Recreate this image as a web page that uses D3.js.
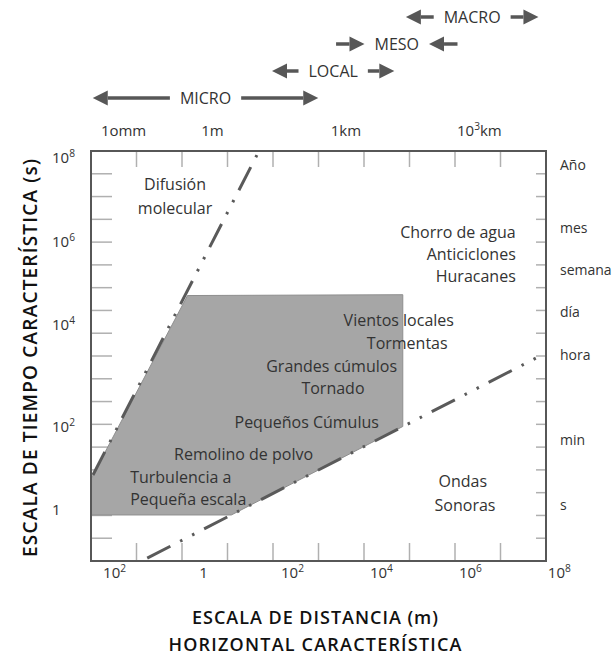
<!DOCTYPE html>
<html>
<head>
<meta charset="utf-8">
<script src="https://cdn.jsdelivr.net/npm/d3@7"></script>
<style>
  body { margin: 0; background: #fff; }
  text { font-family: "Open Sans", "Noto Sans", sans-serif; fill: #333; }
</style>
</head>
<body>
<svg id="chart" width="613" height="657"></svg>
<script>
const svg = d3.select("#chart");

// --- data (all positions in powers of ten: 10^e) ---
// bottom axis labels: distance in m (the first one is printed "10²" in the original)
const xLabelExp = [-2, 0, 2, 4, 6, 8];
const xLabelBase = ["10", "1", "10", "10", "10", "10"];
const xLabelSup = ["2", "", "2", "4", "6", "8"];

// left axis labels: time in s
const yLabelExp = [8, 6, 4, 2, 0];
const yLabelBase = ["10", "10", "10", "10", "1"];
const yLabelSup = ["8", "6", "4", "2", ""];

// right side time names
const timeNames = ["Año", "mes", "semana", "día", "hora", "min", "s"];
const timeExp = [7.83, 6.33, 5.33, 4.31, 3.41, 1.69, 0.12];

// top distance names
const distNames = ["1omm", "1m", "1km", "10³km"];
const distExp = [-2, 0, 3, 6];

// meteorological scales (horizontal extent, arrow direction)
const scaleNames = ["MICRO", "LOCAL", "MESO", "MACRO"];
const scaleFrom = [-2.49, 1.54, 2.98, 4.55];
const scaleTo = [2.58, 4.29, 5.71, 7.53];
const scaleDir = ["out", "out", "in", "out"];

// shaded region (x, y exponents)
const regionX = [-2.53, -0.36, 4.48, 4.48, 0.625, -2.53];
const regionY = [0.75, 4.71, 4.73, 2.01, -0.12, -0.12];

// dash-dot limit lines [start, end]
const limitX = [[1.20, -2.53], [7.47, -1.39]];
const limitY = [[8.07, 0.75], [3.35, -1.229]];

// phenomena
const phenNames = ["Difusión", "molecular", "Chorro de agua", "Anticiclones", "Huracanes",
  "Vientos locales", "Tormentas", "Grandes cúmulos", "Tornado", "Pequeños Cúmulus",
  "Remolino de polvo", "Turbulencia a", "Pequeña escala", "Ondas", "Sonoras"];
const phenX = [-0.64, -0.64, 7.02, 7.02, 7.02, 4.39, 4.58, 2.88, 2.91, 2.32, 0.9, -1.65, -1.65, 5.83, 5.88];
const phenY = [7.36, 6.80, 6.23, 5.69, 5.16, 4.12, 3.63, 3.18, 2.76, 2.10, 1.33, 0.79, 0.26, 0.68, 0.12];
const phenAnchor = ["middle", "middle", "end", "end", "end", "middle", "middle", "middle", "middle",
  "middle", "middle", "start", "start", "middle", "middle"];

// --- scales ---
const box = { left: 91, right: 546, top: 151, bottom: 561 };
const x = d3.scaleLinear().domain([-2.53, 7.7]).range([box.left, box.right]);
// the original axis is not evenly spaced, so a piecewise scale is used
const y = d3.scaleLinear()
  .domain([-1.229, 0, 2, 4, 6, 8, 8.167])
  .range([box.bottom, 510, 427, 325, 242, 158, box.top]);

const darkGray = "#575757";
const tickGray = "#b0b0b0";

function powText(sel, base, sup, after) {
  sel.append("tspan").text(base);
  if (sup) sel.append("tspan").attr("dy", -6).attr("font-size", "0.68em").text(sup);
  if (after) sel.append("tspan").attr("dy", 6).text(after);
}

// --- frame ticks ---
const tickG = svg.append("g").attr("stroke", tickGray).attr("stroke-width", 1.5);
const xSteps = d3.range(1, 10).map(i => x.domain()[0] + i * (x.domain()[1] - x.domain()[0]) / 10);
xSteps.forEach(v => {
  tickG.append("line").attr("x1", x(v)).attr("x2", x(v)).attr("y1", box.top).attr("y2", box.top + 16);
  tickG.append("line").attr("x1", x(v)).attr("x2", x(v)).attr("y1", box.bottom).attr("y2", box.bottom - 18);
});
const yGrid = d3.scaleLinear().domain([0, 18]).range([box.bottom, box.top]);
d3.range(1, 18).forEach(i => {
  tickG.append("line").attr("x1", box.left).attr("x2", box.left + 21).attr("y1", yGrid(i)).attr("y2", yGrid(i));
  tickG.append("line").attr("x1", box.right - 10).attr("x2", box.right).attr("y1", yGrid(i)).attr("y2", yGrid(i));
});

// --- shaded region ---
svg.append("path")
  .datum(d3.zip(regionX, regionY))
  .attr("d", d3.line().x(d => x(d[0])).y(d => y(d[1])).curve(d3.curveLinearClosed))
  .attr("fill", "#a6a6a6")
  .attr("stroke", "#8e8e8e")
  .attr("stroke-width", 1);

// --- dash-dot lines ---
const dashOffsets = [50.5, 37];
limitX.forEach((lx, i) => {
  svg.append("line")
    .attr("x1", x(lx[0])).attr("y1", y(limitY[i][0]))
    .attr("x2", x(lx[1])).attr("y2", y(limitY[i][1]))
    .attr("stroke", "#5a5a5a")
    .attr("stroke-width", 3)
    .attr("stroke-dasharray", "26,11,2.5,11,2.5,11")
    .attr("stroke-dashoffset", dashOffsets[i]);
});

// --- frame ---
svg.append("rect")
  .attr("x", box.left).attr("y", box.top)
  .attr("width", box.right - box.left).attr("height", box.bottom - box.top)
  .attr("fill", "none").attr("stroke", darkGray).attr("stroke-width", 2);

// --- phenomena text ---
phenNames.forEach((name, i) => {
  svg.append("text")
    .attr("x", x(phenX[i])).attr("y", y(phenY[i]))
    .attr("dy", "0.35em")
    .attr("text-anchor", phenAnchor[i])
    .style("font-size", "16px")
    .text(name);
});

// --- bottom axis labels ---
xLabelExp.forEach((e, i) => {
  svg.append("text")
    .attr("x", x(e)).attr("y", 578)
    .attr("text-anchor", "middle")
    .style("font-size", "15px")
    .call(powText, xLabelBase[i], xLabelSup[i]);
});

// --- left axis labels ---
yLabelExp.forEach((e, i) => {
  svg.append("text")
    .attr("x", 52).attr("y", y(e)).attr("dy", "0.35em")
    .style("font-size", "15px")
    .call(powText, yLabelBase[i], yLabelSup[i]);
});

// --- right time names ---
timeNames.forEach((name, i) => {
  svg.append("text")
    .attr("x", 560).attr("y", y(timeExp[i])).attr("dy", "0.35em")
    .style("font-size", "14px")
    .text(name);
});

// --- top distance names ---
distNames.forEach((name, i) => {
  const t = svg.append("text")
    .attr("x", x(distExp[i]) + 9).attr("y", 131).attr("dy", "0.35em")
    .attr("text-anchor", "middle")
    .style("font-size", "15px");
  if (name.includes("³")) t.call(powText, "10", "3", "km");
  else t.text(name);
});

// --- scale arrows ---
function arrow(g, tail, tip, yy) {
  const dir = Math.sign(tip - tail), headLen = 15, headHalf = 7.5;
  g.append("line")
    .attr("x1", tail).attr("x2", tip - dir * headLen)
    .attr("y1", yy).attr("y2", yy)
    .attr("stroke", darkGray).attr("stroke-width", 3.5);
  g.append("path")
    .attr("d", `M${tip},${yy}L${tip - dir * headLen},${yy - headHalf}L${tip - dir * headLen},${yy + headHalf}Z`)
    .attr("fill", darkGray);
}

scaleNames.forEach((name, i) => {
  const yy = 98 - i * 27;
  const a = x(scaleFrom[i]), b = x(scaleTo[i]), c = (a + b) / 2;
  const g = svg.append("g");
  const t = g.append("text")
    .attr("x", c).attr("y", yy).attr("dy", "0.35em")
    .attr("text-anchor", "middle")
    .style("font-size", "16px")
    .text(name);
  const half = t.node().getComputedTextLength() / 2 + 10;
  if (scaleDir[i] === "out") {
    arrow(g, c - half, a, yy);
    arrow(g, c + half, b, yy);
  } else {
    arrow(g, a, c - half, yy);
    arrow(g, b, c + half, yy);
  }
});

// --- axis titles ---
svg.append("text")
  .attr("transform", "translate(30,358) rotate(-90)")
  .attr("dy", "0.35em")
  .attr("text-anchor", "middle")
  .attr("textLength", 398)
  .attr("lengthAdjust", "spacing")
  .style("font-size", "19px").style("font-weight", 600).style("fill", "#111")
  .text("ESCALA DE TIEMPO CARACTERÍSTICA (s)");

const titleLengths = [246, 293];
["ESCALA DE DISTANCIA (m)", "HORIZONTAL CARACTERÍSTICA"].forEach((line, i) => {
  svg.append("text")
    .attr("x", 315).attr("y", 618 + i * 27).attr("dy", "0.35em")
    .attr("text-anchor", "middle")
    .attr("textLength", titleLengths[i])
    .attr("lengthAdjust", "spacing")
    .style("font-size", "18px").style("font-weight", 600).style("fill", "#111")
    .text(line);
});
</script>
</body>
</html>
